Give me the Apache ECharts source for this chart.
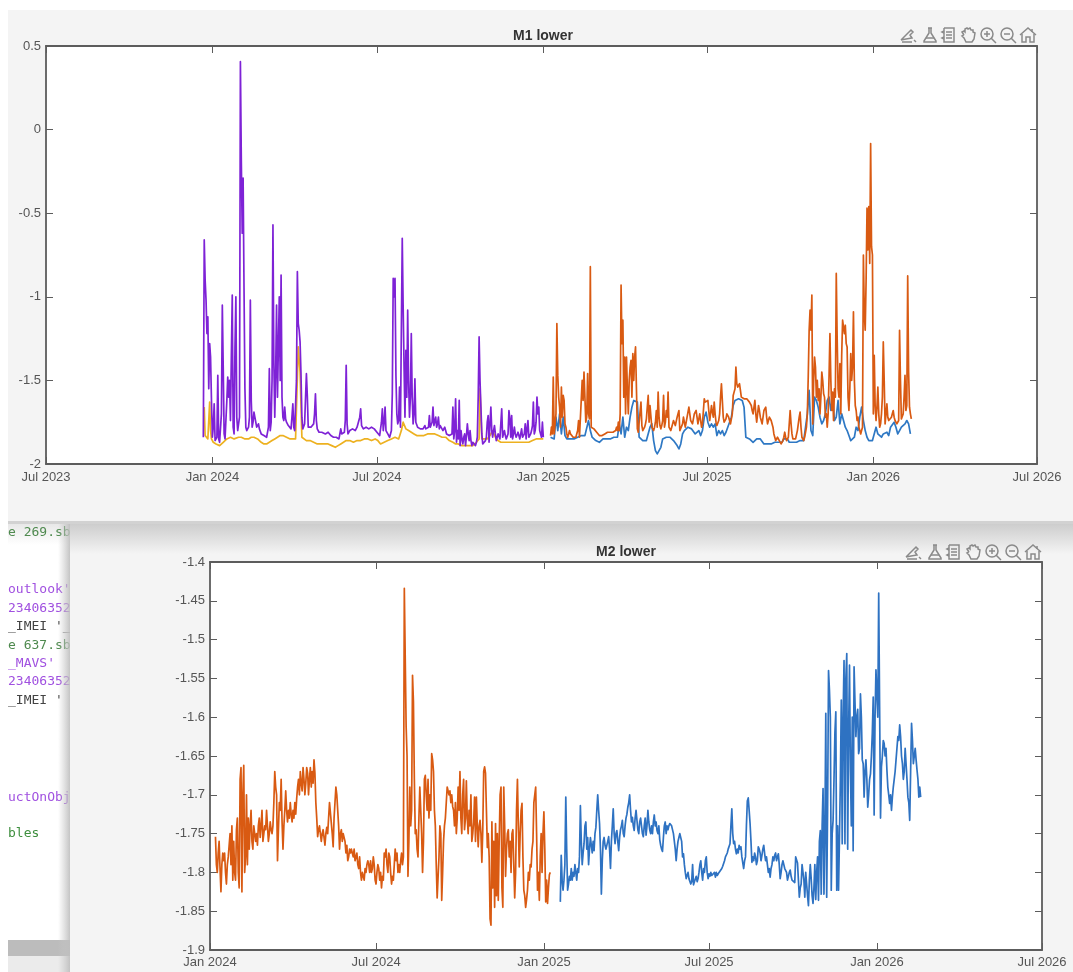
<!DOCTYPE html>
<html>
<head>
<meta charset="utf-8">
<style>
html,body{margin:0;padding:0;background:#fff;}
#chart{width:1073px;height:972px;filter:blur(0.45px);}
</style>
<script src="https://cdn.jsdelivr.net/npm/echarts@6/dist/echarts.min.js"></script>
</head>
<body>
<div id="chart"></div>
<script>
const start2024 = Date.UTC(2024, 0, 1);
const start2025 = Date.UTC(2025, 0, 1);

// Pair lists: [days since the named start date, value]
const m1Purple = [[-10,-1.84],[-9,-0.66],[-8,-0.9],[-7,-1.02],[-6,-1.22],[-5,-1.12],[-4,-1.55],[-3,-1.28],[-2,-1.36],[-1,-1.62],[0,-1.84],[1,-1.78],[2,-1.64],[3,-1.86],[4,-1.87],[5,-1.84],[6,-1.47],[7,-1.85],[8,-1.87],[9,-1.86],[10,-1.7],[11,-1.05],[12,-1.42],[13,-1.82],[14,-1.85],[15,-1.84],[16,-1.62],[17,-1.48],[18,-1.6],[19,-1.5],[20,-1.74],[21,-1.35],[22,-0.99],[23,-1.78],[24,-1.82],[25,-1.3],[26,-1.0],[27,-1.72],[28,-1.8],[29,-1.79],[30,-1.72],[31,0.406],[32,-0.18],[33,-0.62],[34,-0.29],[35,-0.95],[36,-1.55],[37,-1.78],[38,-1.8],[39,-1.79],[40,-1.78],[41,-1.72],[42,-1.02],[43,-1.62],[44,-1.78],[45,-1.75],[46,-1.69],[47,-1.72],[48,-1.75],[49,-1.78],[50,-1.77],[51,-1.76],[52,-1.79],[53,-1.8],[54,-1.82],[55,-1.81],[56,-1.82],[57,-1.83],[58,-1.82],[59,-1.84],[60,-1.84],[61,-1.83],[62,-1.78],[63,-1.43],[64,-1.8],[65,-1.75],[66,-1.5],[67,-0.57],[68,-1.4],[69,-1.72],[70,-1.45],[71,-1.05],[72,-1.6],[73,-1.3],[74,-1.0],[75,-1.5],[76,-0.87],[77,-1.6],[78,-1.72],[79,-1.74],[80,-1.66],[81,-1.73],[82,-1.75],[83,-1.76],[84,-1.77],[85,-1.78],[86,-1.78],[87,-1.79],[88,-1.72],[89,-1.64],[90,-1.78],[91,-1.8],[92,-1.79],[93,-1.5],[94,-0.85],[95,-1.16],[96,-1.2],[97,-1.27],[98,-1.46],[99,-1.72],[100,-1.79],[101,-1.78],[102,-1.76],[103,-1.77],[104,-1.46],[105,-1.59],[106,-1.78],[107,-1.77],[108,-1.79],[109,-1.78],[110,-1.78],[111,-1.77],[112,-1.76],[113,-1.7],[114,-1.58],[115,-1.74],[116,-1.79],[117,-1.8],[118,-1.81],[119,-1.8],[120,-1.8],[121,-1.81],[123,-1.82],[125,-1.82],[126,-1.83],[128,-1.81],[129,-1.82],[131,-1.83],[132,-1.84],[134,-1.84],[135,-1.85],[137,-1.84],[138,-1.83],[140,-1.85],[141,-1.84],[142,-1.79],[143,-1.82],[144,-1.83],[145,-1.82],[146,-1.81],[147,-1.74],[148,-1.41],[149,-1.76],[150,-1.82],[151,-1.81],[152,-1.8],[153,-1.8],[154,-1.81],[155,-1.79],[156,-1.78],[157,-1.79],[158,-1.8],[159,-1.79],[160,-1.78],[161,-1.79],[162,-1.79],[163,-1.72],[164,-1.67],[165,-1.77],[166,-1.78],[167,-1.79],[168,-1.78],[170,-1.78],[171,-1.79],[173,-1.79],[174,-1.78],[176,-1.78],[177,-1.79],[179,-1.79],[180,-1.8],[182,-1.81],[184,-1.82],[185,-1.83],[186,-1.84],[187,-1.75],[188,-1.67],[189,-1.8],[190,-1.75],[191,-1.66],[192,-1.8],[193,-1.81],[194,-1.82],[195,-1.83],[196,-1.84],[197,-1.82],[198,-1.8],[199,-1.58],[200,-0.89],[201,-1.0],[202,-0.89],[203,-1.47],[204,-1.7],[205,-1.76],[206,-1.74],[207,-1.54],[208,-1.78],[209,-1.2],[210,-0.65],[211,-1.06],[212,-1.42],[213,-1.72],[214,-1.32],[215,-1.6],[216,-1.08],[217,-1.5],[218,-1.72],[219,-1.6],[220,-1.22],[221,-1.6],[222,-1.76],[223,-1.7],[224,-1.49],[225,-1.75],[226,-1.76],[227,-1.78],[228,-1.78],[229,-1.77],[230,-1.79],[231,-1.8],[232,-1.8],[233,-1.79],[234,-1.78],[235,-1.77],[236,-1.79],[237,-1.8],[238,-1.79],[239,-1.78],[240,-1.71],[241,-1.78],[242,-1.79],[243,-1.75],[244,-1.66],[245,-1.77],[246,-1.76],[247,-1.72],[248,-1.78],[249,-1.76],[250,-1.72],[251,-1.79],[252,-1.77],[253,-1.76],[254,-1.78],[255,-1.8],[256,-1.79],[257,-1.78],[258,-1.8],[259,-1.82],[260,-1.81],[261,-1.81],[262,-1.83],[263,-1.84],[264,-1.83],[265,-1.82],[266,-1.66],[267,-1.85],[268,-1.8],[269,-1.61],[270,-1.87],[271,-1.8],[272,-1.85],[273,-1.62],[274,-1.89],[275,-1.8],[276,-1.85],[277,-1.88],[278,-1.84],[279,-1.82],[280,-1.89],[281,-1.83],[282,-1.76],[283,-1.82],[284,-1.86],[285,-1.8],[286,-1.86],[287,-1.89],[288,-1.87],[289,-1.86],[290,-1.88],[291,-1.89],[292,-1.87],[293,-1.84],[294,-1.6],[295,-1.24],[296,-1.5],[297,-1.66],[298,-1.82],[299,-1.88],[300,-1.88],[301,-1.87],[302,-1.86],[303,-1.84],[304,-1.75],[305,-1.71],[306,-1.87],[307,-1.76],[308,-1.66],[309,-1.8],[310,-1.84],[311,-1.8],[312,-1.77],[313,-1.82],[314,-1.86],[315,-1.84],[316,-1.82],[317,-1.83],[318,-1.85],[319,-1.76],[320,-1.67],[321,-1.84],[322,-1.83],[323,-1.8],[324,-1.83],[325,-1.85],[326,-1.84],[327,-1.82],[328,-1.68],[329,-1.73],[330,-1.84],[331,-1.71],[332,-1.85],[333,-1.82],[334,-1.78],[335,-1.82],[336,-1.84],[337,-1.83],[338,-1.81],[339,-1.83],[340,-1.85],[341,-1.82],[342,-1.79],[343,-1.84],[344,-1.83],[345,-1.82],[346,-1.76],[347,-1.85],[348,-1.79],[349,-1.74],[350,-1.84],[351,-1.83],[352,-1.82],[353,-1.8],[354,-1.77],[355,-1.63],[356,-1.82],[357,-1.8],[358,-1.75],[359,-1.6],[360,-1.7],[361,-1.66],[362,-1.8],[363,-1.82],[364,-1.84],[365,-1.75],[366,-1.84]];

const m1Yellow = [[-9,-1.66],[-8,-1.83],[-7,-1.84],[-6,-1.84],[-5,-1.85],[-4,-1.85],[-3,-1.63],[-2,-1.8],[-1,-1.85],[0,-1.86],[1,-1.87],[2,-1.88],[4,-1.88],[6,-1.88],[8,-1.89],[10,-1.88],[12,-1.87],[14,-1.86],[16,-1.85],[18,-1.85],[20,-1.84],[22,-1.84],[24,-1.85],[26,-1.85],[29,-1.84],[32,-1.84],[36,-1.85],[40,-1.85],[43,-1.84],[46,-1.84],[50,-1.85],[54,-1.87],[57,-1.88],[60,-1.88],[63,-1.87],[66,-1.86],[69,-1.85],[72,-1.84],[75,-1.83],[78,-1.83],[82,-1.84],[86,-1.85],[89,-1.85],[92,-1.85],[95,-1.3],[97,-1.45],[99,-1.84],[101,-1.85],[104,-1.86],[108,-1.86],[112,-1.87],[116,-1.88],[120,-1.88],[124,-1.88],[128,-1.88],[132,-1.89],[136,-1.9],[139,-1.89],[142,-1.88],[145,-1.87],[148,-1.86],[152,-1.86],[156,-1.87],[160,-1.86],[164,-1.86],[168,-1.85],[172,-1.85],[176,-1.86],[180,-1.85],[183,-1.86],[186,-1.88],[190,-1.87],[194,-1.86],[198,-1.85],[202,-1.84],[206,-1.85],[209,-1.8],[211,-1.75],[214,-1.79],[217,-1.8],[220,-1.81],[223,-1.82],[226,-1.83],[230,-1.83],[234,-1.83],[238,-1.82],[242,-1.82],[246,-1.82],[250,-1.83],[254,-1.84],[258,-1.84],[262,-1.86],[266,-1.87],[269,-1.88],[272,-1.88],[276,-1.89],[280,-1.89],[284,-1.89],[288,-1.89],[292,-1.87],[295,-1.85],[296,-1.55],[298,-1.85],[301,-1.85],[304,-1.85],[307,-1.83],[310,-1.8],[313,-1.84],[316,-1.86],[319,-1.87],[322,-1.87],[326,-1.87],[330,-1.87],[335,-1.87],[340,-1.87],[345,-1.87],[350,-1.87],[354,-1.86],[358,-1.85],[362,-1.85],[366,-1.85]];

// Chunk lists: first number is the start day, then readings at a fixed step in days
const m1BlueStepDays = 2;
const m1BlueChunks = [
  [8,-1.84,-1.85,-1.85,-1.72,-1.8,-1.7,-1.82,-1.72,-1.83,-1.85,-1.85,-1.85,-1.86,-1.85,-1.85,-1.84,-1.84,-1.83,-1.84,-1.83,-1.82,-1.74,-1.8,-1.84,-1.85,-1.86,-1.86,-1.87,-1.86,-1.85,-1.86,-1.85,-1.86,-1.85,-1.85,-1.84,-1.83],
  [82,-1.84,-1.76,-1.82,-1.72,-1.84,-1.78,-1.8,-1.72,-1.66,-1.62,-1.61,-1.63,-1.84,-1.85,-1.86,-1.86,-1.86,-1.85],
  [118,-1.78,-1.76,-1.86,-1.92,-1.94,-1.95,-1.9,-1.85,-1.86,-1.84,-1.85,-1.84,-1.83,-1.86,-1.85,-1.89,-1.91,-1.88,-1.82,-1.8,-1.79,-1.78,-1.77,-1.79,-1.78,-1.82,-1.83,-1.8,-1.83],
  [176,-1.8,-1.72,-1.69,-1.75,-1.78,-1.76,-1.78,-1.76,-1.83,-1.8,-1.82,-1.8,-1.83,-1.81,-1.82,-1.75,-1.72,-1.65,-1.62,-1.62,-1.61,-1.62,-1.62,-1.66,-1.84,-1.85,-1.85,-1.86,-1.87,-1.86,-1.85,-1.85,-1.85,-1.86,-1.88,-1.89,-1.88,-1.87,-1.88,-1.87,-1.87,-1.88,-1.87,-1.86,-1.87,-1.85,-1.86,-1.85],
  [272,-1.87,-1.86,-1.87,-1.86,-1.87,-1.86,-1.86,-1.87,-1.86,-1.85,-1.7,-1.56,-1.8,-1.83,-1.6,-1.62,-1.66,-1.72,-1.76,-1.74,-1.7,-1.62,-1.6,-1.68,-1.6,-1.74,-1.72,-1.62,-1.76,-1.7,-1.74,-1.78,-1.8,-1.83,-1.86,-1.87,-1.84,-1.78,-1.8,-1.72,-1.66,-1.74,-1.8,-1.84,-1.86,-1.85,-1.86,-1.85,-1.78,-1.82,-1.83,-1.84,-1.82,-1.83,-1.81,-1.83,-1.78,-1.77,-1.75,-1.78,-1.82],
  [394,-1.8,-1.78,-1.77,-1.76,-1.74,-1.76,-1.82]
];

const m1Orange = [[8,-1.83],[9,-1.78],[10,-1.82],[11,-1.48],[12,-1.82],[13,-1.83],[14,-1.7],[15,-1.16],[16,-1.47],[17,-1.6],[18,-1.66],[19,-1.78],[20,-1.54],[21,-1.72],[22,-1.59],[23,-1.62],[24,-1.76],[25,-1.78],[26,-1.82],[27,-1.84],[28,-1.82],[29,-1.8],[30,-1.82],[31,-1.83],[32,-1.83],[33,-1.84],[34,-1.83],[35,-1.84],[36,-1.84],[37,-1.85],[38,-1.8],[39,-1.74],[40,-1.84],[41,-1.83],[42,-1.84],[43,-1.5],[44,-1.62],[45,-1.45],[46,-1.6],[47,-1.75],[48,-1.72],[49,-1.46],[50,-1.7],[51,-1.73],[52,-0.82],[53,-1.78],[54,-1.77],[55,-1.78],[56,-1.79],[57,-1.8],[58,-1.8],[59,-1.81],[60,-1.82],[61,-1.82],[62,-1.83],[63,-1.83],[64,-1.82],[65,-1.83],[66,-1.82],[67,-1.83],[68,-1.82],[69,-1.83],[70,-1.82],[71,-1.81],[72,-1.82],[73,-1.82],[74,-1.81],[75,-1.81],[76,-1.8],[77,-1.81],[78,-1.82],[79,-1.81],[80,-1.8],[81,-1.78],[82,-1.8],[83,-1.75],[84,-1.8],[85,-1.7],[86,-0.93],[87,-1.28],[88,-1.14],[89,-1.6],[90,-1.36],[91,-1.7],[92,-1.36],[93,-1.55],[94,-1.7],[95,-1.5],[96,-1.42],[97,-1.38],[98,-1.6],[99,-1.34],[100,-1.5],[101,-1.36],[102,-1.3],[103,-1.55],[104,-1.79],[105,-1.81],[106,-1.8],[107,-1.82],[108,-1.63],[109,-1.77],[110,-1.8],[111,-1.79],[112,-1.78],[113,-1.76],[114,-1.73],[115,-1.66],[116,-1.59],[117,-1.75],[118,-1.65],[119,-1.64],[120,-1.78],[121,-1.79],[122,-1.8],[123,-1.78],[124,-1.75],[125,-1.68],[126,-1.78],[127,-1.57],[128,-1.72],[129,-1.77],[130,-1.79],[131,-1.77],[132,-1.74],[133,-1.59],[134,-1.78],[135,-1.75],[136,-1.68],[137,-1.72],[138,-1.57],[139,-1.78],[140,-1.79],[141,-1.8],[142,-1.78],[143,-1.76],[144,-1.74],[145,-1.75],[146,-1.77],[147,-1.78],[148,-1.72],[149,-1.7],[150,-1.68],[151,-1.8],[152,-1.81],[153,-1.8],[154,-1.76],[155,-1.72],[156,-1.75],[157,-1.78],[158,-1.75],[159,-1.72],[160,-1.69],[161,-1.66],[162,-1.7],[163,-1.74],[164,-1.75],[165,-1.76],[166,-1.73],[167,-1.7],[168,-1.69],[169,-1.68],[170,-1.72],[171,-1.76],[172,-1.73],[173,-1.7],[174,-1.74],[175,-1.78],[176,-1.76],[177,-1.75],[178,-1.61],[179,-1.63],[180,-1.64],[181,-1.62],[182,-1.62],[183,-1.68],[184,-1.74],[185,-1.7],[186,-1.65],[187,-1.69],[188,-1.72],[189,-1.63],[190,-1.7],[191,-1.75],[192,-1.77],[193,-1.78],[194,-1.74],[195,-1.7],[196,-1.6],[197,-1.52],[198,-1.62],[199,-1.72],[200,-1.75],[201,-1.76],[202,-1.73],[203,-1.7],[204,-1.71],[205,-1.72],[206,-1.74],[207,-1.76],[208,-1.73],[209,-1.7],[210,-1.59],[211,-1.57],[212,-1.55],[213,-1.42],[214,-1.52],[215,-1.54],[216,-1.55],[217,-1.52],[218,-1.56],[219,-1.6],[220,-1.61],[222,-1.61],[224,-1.6],[225,-1.61],[227,-1.62],[228,-1.63],[229,-1.64],[230,-1.65],[231,-1.68],[232,-1.7],[233,-1.66],[234,-1.62],[235,-1.7],[236,-1.75],[237,-1.7],[238,-1.65],[239,-1.68],[240,-1.72],[241,-1.74],[242,-1.76],[243,-1.72],[244,-1.68],[245,-1.67],[246,-1.66],[247,-1.72],[248,-1.76],[249,-1.74],[250,-1.72],[251,-1.73],[252,-1.74],[253,-1.73],[254,-1.78],[255,-1.82],[256,-1.84],[257,-1.86],[258,-1.85],[259,-1.84],[260,-1.84],[261,-1.86],[262,-1.87],[263,-1.88],[264,-1.87],[265,-1.86],[266,-1.84],[267,-1.81],[268,-1.84],[269,-1.86],[270,-1.85],[271,-1.84],[272,-1.76],[273,-1.68],[274,-1.76],[275,-1.82],[276,-1.85],[277,-1.86],[278,-1.85],[279,-1.85],[280,-1.84],[281,-1.8],[282,-1.76],[283,-1.72],[284,-1.69],[285,-1.78],[286,-1.84],[287,-1.85],[288,-1.86],[289,-1.84],[290,-1.81],[291,-1.78],[292,-1.7],[293,-1.48],[294,-1.2],[295,-1.08],[296,-1.2],[297,-0.99],[298,-1.76],[299,-1.5],[300,-1.36],[301,-1.42],[302,-1.6],[303,-1.5],[304,-1.62],[305,-1.55],[306,-1.7],[307,-1.6],[308,-1.45],[309,-1.5],[310,-1.58],[311,-1.6],[312,-1.72],[313,-1.7],[314,-1.78],[315,-1.7],[316,-1.48],[317,-1.22],[318,-1.5],[319,-1.68],[320,-1.57],[321,-1.74],[322,-1.55],[323,-1.6],[324,-0.86],[325,-1.25],[326,-1.55],[327,-1.6],[328,-1.4],[329,-1.7],[330,-1.35],[331,-1.14],[332,-1.18],[333,-1.22],[334,-1.17],[335,-1.28],[336,-1.3],[337,-1.6],[338,-1.68],[339,-1.55],[340,-1.34],[341,-1.5],[342,-1.42],[343,-1.09],[344,-1.5],[345,-1.65],[346,-1.68],[347,-1.74],[348,-1.72],[349,-1.78],[350,-1.8],[351,-1.82],[352,-1.8],[353,-1.78],[354,-0.75],[355,-1.1],[356,-1.2],[357,-0.9],[358,-0.47],[359,-0.72],[360,-0.46],[361,-0.8],[362,-0.083],[363,-0.7],[364,-0.75],[365,-1.7],[366,-1.35],[367,-1.65],[368,-1.74],[369,-1.66],[370,-1.54],[371,-1.7],[372,-1.78],[373,-1.76],[374,-1.7],[375,-1.6],[376,-1.27],[377,-1.5],[378,-1.76],[379,-1.7],[380,-1.64],[381,-1.72],[382,-1.74],[383,-1.75],[384,-1.74],[385,-1.72],[386,-1.7],[387,-1.68],[388,-1.72],[389,-1.74],[390,-1.75],[391,-1.76],[392,-1.75],[393,-1.74],[394,-1.2],[395,-1.5],[396,-1.73],[397,-1.72],[398,-1.7],[399,-1.6],[400,-1.47],[401,-1.68],[402,-1.65],[403,-0.875],[404,-1.45],[405,-1.66],[406,-1.7],[407,-1.73]];

const m2StepDays = 1;
const m2OrangeChunks = [
  [6,-1.754,-1.79,-1.8,-1.775,-1.76,-1.795,-1.825,-1.79,-1.775,-1.785,-1.775,-1.8,-1.815,-1.79,-1.78,-1.765,-1.75,-1.79,-1.74,-1.81,-1.76,-1.8],
  [28,-1.81,-1.745,-1.73,-1.8,-1.82,-1.68,-1.665,-1.825,-1.7,-1.662,-1.8,-1.78,-1.7,-1.79,-1.73,-1.77,-1.74,-1.72,-1.76,-1.77,-1.74,-1.75],
  [50,-1.76,-1.75,-1.765,-1.74,-1.73,-1.755,-1.74,-1.72,-1.76,-1.75,-1.74,-1.745,-1.72,-1.74,-1.76,-1.75,-1.735,-1.745,-1.75,-1.74,-1.71,-1.67,-1.69,-1.7,-1.785,-1.745,-1.71,-1.72,-1.68,-1.735,-1.77,-1.74,-1.72,-1.695,-1.72,-1.735,-1.72],
  [87,-1.73,-1.71,-1.725,-1.735,-1.72,-1.73,-1.71,-1.725,-1.705,-1.69,-1.68,-1.7,-1.67,-1.685,-1.695,-1.665,-1.68,-1.7,-1.685,-1.665,-1.672,-1.7,-1.68,-1.665,-1.69,-1.67,-1.685,-1.655,-1.672,-1.71,-1.73],
  [118,-1.754,-1.745,-1.74,-1.75,-1.76,-1.75,-1.745,-1.755,-1.765,-1.75,-1.742,-1.75,-1.73,-1.71,-1.71,-1.708,-1.75,-1.767,-1.73,-1.71,-1.69,-1.7,-1.72,-1.74,-1.77,-1.75,-1.745,-1.76,-1.75,-1.752,-1.76,-1.775,-1.765,-1.785,-1.78,-1.77,-1.775,-1.77,-1.768,-1.78],
  [158,-1.77,-1.785,-1.78,-1.775,-1.79,-1.795,-1.78,-1.8,-1.81,-1.8,-1.805,-1.81,-1.795,-1.8,-1.79,-1.785,-1.79,-1.8,-1.785,-1.8,-1.795,-1.78,-1.79,-1.81,-1.815,-1.8,-1.79,-1.795,-1.81,-1.8,-1.82,-1.805,-1.81,-1.775,-1.78,-1.77,-1.79,-1.8,-1.775,-1.78,-1.8],
  [199,-1.815,-1.805,-1.81,-1.79,-1.77,-1.785,-1.775,-1.8,-1.79,-1.8,-1.785,-1.775,-1.79],
  [212,-1.78,-1.434,-1.435,-1.612,-1.65,-1.805,-1.76,-1.69,-1.74,-1.72,-1.546,-1.58,-1.68,-1.75,-1.745,-1.77,-1.78,-1.73,-1.69,-1.72,-1.75,-1.8,-1.76,-1.68,-1.675,-1.7,-1.72,-1.68,-1.73,-1.7,-1.72,-1.647,-1.655,-1.67,-1.72,-1.74,-1.79,-1.833],
  [250,-1.835,-1.78,-1.74,-1.75,-1.836,-1.8,-1.76,-1.74,-1.73,-1.71,-1.69,-1.688,-1.7,-1.695,-1.71,-1.7,-1.715,-1.72,-1.74,-1.71,-1.75,-1.73,-1.69,-1.72,-1.67,-1.73,-1.75,-1.7,-1.68,-1.745,-1.73,-1.682,-1.73,-1.75,-1.72,-1.74,-1.7,-1.76,-1.75,-1.735,-1.703,-1.76],
  [292,-1.703,-1.74,-1.767,-1.74,-1.733,-1.75,-1.787,-1.745,-1.67,-1.664,-1.672,-1.72,-1.768,-1.75,-1.78,-1.86,-1.868,-1.735,-1.82,-1.76,-1.845,-1.737,-1.83,-1.75,-1.836,-1.76,-1.7,-1.69,-1.82,-1.845,-1.69,-1.74,-1.805,-1.77,-1.75,-1.745,-1.78],
  [329,-1.76,-1.8,-1.75,-1.745,-1.79,-1.833,-1.8,-1.72,-1.68,-1.74,-1.793,-1.75,-1.72,-1.711,-1.78,-1.823,-1.83,-1.845,-1.835,-1.823,-1.8,-1.81,-1.79,-1.793,-1.77,-1.76,-1.71,-1.7,-1.69,-1.75,-1.823,-1.8,-1.836,-1.78,-1.75,-1.8,-1.75,-1.722,-1.77,-1.838,-1.81,-1.84,-1.82,-1.803,-1.8]
];
const m2BlueChunks = [
  [18,-1.838,-1.778,-1.81,-1.823,-1.81,-1.79,-1.703,-1.77,-1.823,-1.815,-1.805,-1.81,-1.795,-1.81,-1.8,-1.805,-1.79,-1.8,-1.81,-1.795,-1.8,-1.78],
  [40,-1.714,-1.76,-1.79,-1.775,-1.763,-1.74,-1.735,-1.77,-1.755,-1.79,-1.77,-1.755,-1.754,-1.775,-1.76,-1.772,-1.75,-1.742,-1.72,-1.7,-1.72,-1.737,-1.77,-1.828,-1.785,-1.76,-1.755,-1.765,-1.77,-1.768,-1.76,-1.754,-1.77,-1.795,-1.76,-1.74,-1.718,-1.75],
  [78,-1.763,-1.75,-1.746,-1.76,-1.772,-1.755,-1.745,-1.74,-1.733,-1.75,-1.754,-1.74,-1.73,-1.725,-1.716,-1.71,-1.7,-1.72,-1.735,-1.729,-1.74,-1.746,-1.73,-1.72,-1.72,-1.745,-1.75,-1.735,-1.73,-1.74,-1.75,-1.754,-1.74,-1.73,-1.752,-1.74,-1.72,-1.735,-1.745,-1.75],
  [118,-1.74,-1.75,-1.735,-1.726,-1.74,-1.735,-1.746,-1.75,-1.74,-1.758,-1.765,-1.77,-1.773,-1.755,-1.74,-1.735,-1.75,-1.74,-1.745,-1.74,-1.737,-1.735,-1.74,-1.742,-1.75,-1.76,-1.77,-1.785,-1.77,-1.76,-1.755,-1.75,-1.752,-1.76,-1.78,-1.776,-1.79,-1.8,-1.808,-1.81],
  [158,-1.8,-1.808,-1.81,-1.815,-1.812,-1.79,-1.816,-1.812,-1.81,-1.805,-1.812,-1.808,-1.8,-1.79,-1.785,-1.8,-1.81,-1.795,-1.8,-1.785,-1.78,-1.8,-1.808,-1.802,-1.805,-1.8,-1.804,-1.802,-1.805,-1.8,-1.806,-1.8],
  [190,-1.804,-1.802,-1.8,-1.802,-1.8,-1.795,-1.792,-1.79,-1.785,-1.78,-1.78,-1.775,-1.77,-1.768,-1.763,-1.74,-1.718,-1.75,-1.763,-1.76,-1.77,-1.776,-1.77,-1.775,-1.765,-1.77,-1.767,-1.78,-1.78,-1.795,-1.785,-1.78,-1.74,-1.708,-1.704,-1.72,-1.737,-1.76,-1.787,-1.78],
  [230,-1.785,-1.775,-1.78,-1.79,-1.785,-1.767,-1.77,-1.775,-1.785,-1.778,-1.77,-1.765,-1.776,-1.785,-1.78,-1.79,-1.8,-1.795,-1.806,-1.795,-1.79,-1.78,-1.785,-1.778,-1.775,-1.785,-1.78,-1.776,-1.79,-1.808,-1.8,-1.79,-1.785,-1.79,-1.795,-1.793,-1.8,-1.81,-1.805,-1.8,-1.797,-1.805,-1.81,-1.808,-1.81,-1.813,-1.78,-1.782,-1.788,-1.81,-1.832,-1.82,-1.815],
  [283,-1.79,-1.8,-1.81,-1.832,-1.8,-1.815,-1.83,-1.843,-1.81,-1.79,-1.808,-1.83,-1.84,-1.82,-1.79,-1.835,-1.8,-1.78,-1.836,-1.76,-1.746,-1.828,-1.74,-1.692,-1.828,-1.75,-1.595,-1.832,-1.72,-1.54,-1.565,-1.6,-1.823,-1.75,-1.733,-1.68,-1.62,-1.593,-1.823,-1.74,-1.823,-1.755,-1.68,-1.578,-1.763,-1.6,-1.527,-1.763,-1.55,-1.518,-1.77,-1.62,-1.533,-1.668,-1.74,-1.6,-1.772,-1.535,-1.58,-1.625,-1.6,-1.59,-1.647,-1.64,-1.57,-1.6,-1.655,-1.66,-1.703,-1.67,-1.655,-1.68,-1.716,-1.7,-1.68,-1.673,-1.65,-1.62,-1.574,-1.726,-1.6,-1.539,-1.57,-1.6,-1.44],
  [368,-1.587,-1.73,-1.664,-1.65,-1.63,-1.634,-1.65,-1.64,-1.668,-1.69,-1.7,-1.711,-1.7,-1.72,-1.703,-1.69,-1.68,-1.67,-1.655,-1.64,-1.625,-1.63,-1.61,-1.625,-1.65,-1.66,-1.68,-1.67,-1.64,-1.66,-1.68,-1.703,-1.71,-1.733,-1.67,-1.608,-1.63,-1.66,-1.65,-1.64,-1.655,-1.668,-1.68,-1.703,-1.69,-1.703]
];

const m1YTicks = [-2, -1.5, -1, -0.5, 0, 0.5];
const m2YTicks = [-1.9, -1.85, -1.8, -1.75, -1.7, -1.65, -1.6, -1.55, -1.5, -1.45, -1.4];
const m1XTicks = [[2023,6],[2024,0],[2024,6],[2025,0],[2025,6],[2026,0],[2026,6]].map(d => Date.UTC(d[0], d[1], 1));
const m2XTicks = [[2024,0],[2024,6],[2025,0],[2025,6],[2026,0],[2026,6]].map(d => Date.UTC(d[0], d[1], 1));
const monthNames = ['Jan','Feb','Mar','Apr','May','Jun','Jul','Aug','Sep','Oct','Nov','Dec'];

const editorLines = [
  ['e 269.sb', 533, '#4f8a4f'], ['outlook\'', 590, '#a050e0'], ['23406352', 609, '#a050e0'],
  ['_IMEI \'_', 627, '#444'], ['e 637.sb', 646, '#4f8a4f'], ['_MAVS\'', 664, '#a050e0'],
  ['23406352', 682, '#a050e0'], ['_IMEI \'', 701, '#444'], ['uctOnObj', 798, '#a050e0'], ['bles', 834, '#3f8f3f']
];

const axisColor = '#5c5c5c';
const fontFamily = '"Liberation Sans", Arial, sans-serif';
const toTime = (start, pts) => pts.map(p => [start + p[0] * 86400000, p[1]]);
const chunksToPoints = (chunks, step) => chunks.flatMap(c => c.slice(1).map((v, i) => [c[0] + i * step, v]));
const fmtDate = v => { const d = new Date(v); return monthNames[d.getUTCMonth()] + ' ' + d.getUTCFullYear(); };

function xAxis(gridIndex, position, ticks, showLabel, margin) {
  return {
    type: 'value', scale: true, gridIndex, position, min: ticks[0], max: ticks[ticks.length - 1],
    axisLine: { show: true, onZero: false, lineStyle: { color: axisColor, width: 1.8 } },
    axisTick: { show: true, inside: true, length: 7, customValues: ticks, lineStyle: { color: axisColor, width: 1 } },
    axisLabel: { show: showLabel, customValues: ticks, formatter: fmtDate, margin, color: '#555', fontSize: 13, fontFamily, hideOverlap: false },
    splitLine: { show: false }
  };
}
function yAxis(gridIndex, position, ticks, interval, showLabel) {
  return {
    type: 'value', gridIndex, position, min: ticks[0], max: ticks[ticks.length - 1], interval,
    axisLine: { show: true, onZero: false, lineStyle: { color: axisColor, width: 1.8 } },
    axisTick: { show: true, inside: true, length: 7, lineStyle: { color: axisColor, width: 1 } },
    axisLabel: { show: showLabel, margin: 5, color: '#555', fontSize: 13, fontFamily,
      formatter: v => String(Math.round(v * 100) / 100) },
    splitLine: { show: false }
  };
}
function lineSeries(name, axisIndex, start, pts, color) {
  return {
    name, type: 'line', xAxisIndex: axisIndex, yAxisIndex: axisIndex, data: toTime(start, pts),
    showSymbol: false, symbol: 'none', animation: false,
    lineStyle: { color, width: 1.7, join: 'round' }
  };
}

// Toolbar glyphs in a 16x16 box: strokes and lens rings, window decoration only.
const iconStrokes = [
  [[[1,13],[8,6],[11,3],[13,5],[10,8],[12,11],[6,12],[1,13]], [[2,15],[12,15]], [[14,13],[16,15]]],
  [[[6,1],[10,1]], [[7,1],[7,6],[2,14],[2,15],[14,15],[14,14],[9,6],[9,1]], [[4,11],[12,11]]],
  [[[4,1],[14,1],[14,15],[4,15],[4,1]], [[6,5],[12,5]], [[6,8],[12,8]], [[6,11],[12,11]], [[4,4],[2,5],[4,6]], [[4,10],[2,11],[4,12]]],
  [[[4,8],[2,5],[4,4],[5,5],[5,2],[7,1],[8,2],[10,1],[11,3],[13,3],[13,5],[15,6],[14,12],[12,15],[6,15],[4,11],[2,9],[4,8]]],
  [[[11,11],[16,16]], [[7,4],[7,10]], [[4,7],[10,7]]],
  [[[11,11],[16,16]], [[4,7],[10,7]]],
  [[[0,8],[8,1],[16,8]], [[2,7],[2,15],[6,15],[6,10],[10,10],[10,15],[14,15],[14,7]], [[12,2],[12,5]]]
];
const iconRings = [null, null, null, null, [7, 7, 6], [7, 7, 6], null];
const iconOffsets = [0, 22, 40, 60, 80, 100, 120];
const iconStyle = { fill: null, stroke: '#8a8a8a', lineWidth: 1.5 };
function icons(x0, y0) {
  const out = [];
  iconStrokes.forEach((strokes, i) => {
    strokes.forEach(points => out.push({
      type: 'polyline', x: x0 + iconOffsets[i], y: y0, z: 5, silent: true,
      shape: { points }, style: iconStyle
    }));
    const r = iconRings[i];
    if (r) out.push({
      type: 'circle', x: x0 + iconOffsets[i], y: y0, z: 5, silent: true,
      shape: { cx: r[0], cy: r[1], r: r[2] }, style: iconStyle
    });
  });
  return out;
}

const windowChrome = [
  { type: 'rect', z: -20, shape: { x: 8, y: 10, width: 1065, height: 514 }, style: { fill: '#f4f4f4' } },
  { type: 'rect', z: -20, shape: { x: 8, y: 521, width: 1065, height: 3 }, style: { fill: '#d2d2d2' } },
  { type: 'rect', z: -19, shape: { x: 8, y: 524, width: 62, height: 416 },
    style: { fill: { type: 'linear', x: 0, y: 0, x2: 0, y2: 1, colorStops: [{ offset: 0, color: '#e8e8e8' }, { offset: 0.05, color: '#ffffff' }, { offset: 1, color: '#ffffff' }] } } },
  { type: 'rect', z: -19, shape: { x: 8, y: 940, width: 62, height: 16 }, style: { fill: '#bcbcbc' } },
  { type: 'rect', z: -19, shape: { x: 8, y: 956, width: 62, height: 16 }, style: { fill: '#ebebeb' } },
  ...editorLines.map(l => ({
    type: 'text', z: -18, x: 8, y: l[1], silent: true,
    style: { text: l[0], fill: l[2], font: '13px "DejaVu Sans Mono", monospace', verticalAlign: 'middle' }
  })),
  { type: 'rect', z: -17, shape: { x: 58, y: 524, width: 12, height: 448 },
    style: { fill: { type: 'linear', x: 0, y: 0, x2: 1, y2: 0, colorStops: [{ offset: 0, color: 'rgba(200,200,200,0)' }, { offset: 1, color: 'rgba(190,190,190,0.9)' }] } } },
  { type: 'rect', z: -16, shape: { x: 70, y: 524, width: 1003, height: 448 }, style: { fill: '#f4f4f4' } },
  { type: 'rect', z: -15, shape: { x: 70, y: 524, width: 1003, height: 30 },
    style: { fill: { type: 'linear', x: 0, y: 0, x2: 0, y2: 1, colorStops: [{ offset: 0, color: '#cdcdcd' }, { offset: 1, color: '#f4f4f4' }] } } },
  ...icons(900, 27),
  ...icons(905, 544)
];

const chart = echarts.init(document.getElementById('chart'), null, { renderer: 'canvas' });
chart.setOption({
  animation: false,
  backgroundColor: '#ffffff',
  title: [
    { text: 'M1 lower', left: 538, top: 24, textAlign: 'center', textStyle: { fontSize: 14, fontWeight: 'bold', color: '#333', fontFamily } },
    { text: 'M2 lower', left: 621, top: 540, textAlign: 'center', textStyle: { fontSize: 14, fontWeight: 'bold', color: '#333', fontFamily } }
  ],
  grid: [
    { left: 46, top: 46, width: 991, height: 418, show: true, backgroundColor: '#fff', borderWidth: 0 },
    { left: 210, top: 562, width: 832, height: 388, show: true, backgroundColor: '#fff', borderWidth: 0 }
  ],
  xAxis: [
    xAxis(0, 'bottom', m1XTicks, true, 7),
    xAxis(1, 'bottom', m2XTicks, true, 6),
    xAxis(0, 'top', m1XTicks, false, 7),
    xAxis(1, 'top', m2XTicks, false, 6)
  ],
  yAxis: [
    yAxis(0, 'left', m1YTicks, 0.5, true),
    yAxis(1, 'left', m2YTicks, 0.05, true),
    yAxis(0, 'right', m1YTicks, 0.5, false),
    yAxis(1, 'right', m2YTicks, 0.05, false)
  ],
  series: [
    lineSeries('M1 yellow', 0, start2024, m1Yellow, '#EDB120'),
    lineSeries('M1 purple', 0, start2024, m1Purple, '#7E22D6'),
    lineSeries('M1 blue', 0, start2025, chunksToPoints(m1BlueChunks, m1BlueStepDays), '#2E78C4'),
    lineSeries('M1 orange', 0, start2025, m1Orange, '#D95A12'),
    lineSeries('M2 orange', 1, start2024, chunksToPoints(m2OrangeChunks, m2StepDays), '#D95A12'),
    lineSeries('M2 blue', 1, start2025, chunksToPoints(m2BlueChunks, m2StepDays), '#2E72C2')
  ],
  graphic: { elements: windowChrome }
});
</script>
</body>
</html>
